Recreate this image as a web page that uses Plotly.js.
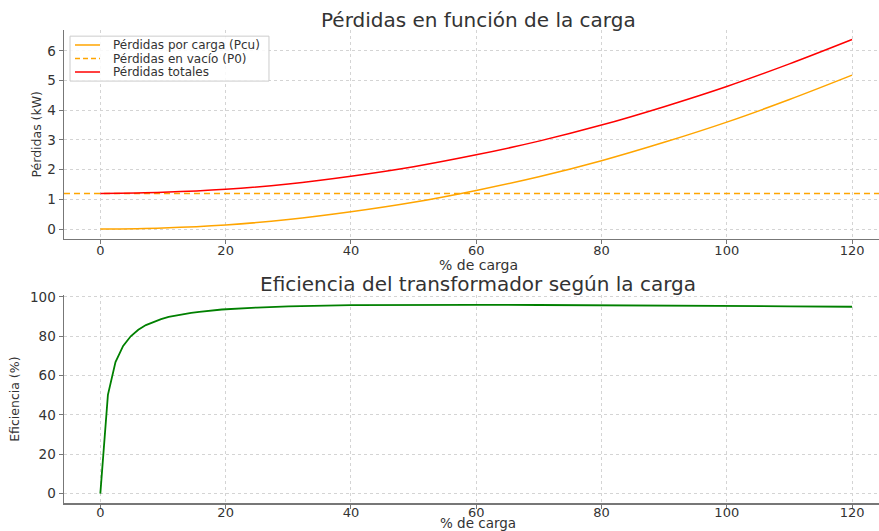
<!DOCTYPE html>
<html>
<head>
<meta charset="utf-8">
<script src="https://cdn.plot.ly/plotly-3.0.1.min.js"></script>
<style>html,body{margin:0;padding:0;background:#fff;}#chart{width:879px;height:531px;}</style>
</head>
<body>
<div id="chart"></div>
<script>
// Load (%) and losses (kW)
const loadPct = [0, 10, 20, 30, 40, 50, 60, 70, 80, 90, 100, 110, 120];
const lossCu = [0, 0.04, 0.14, 0.32, 0.58, 0.90, 1.30, 1.76, 2.30, 2.92, 3.60, 4.36, 5.18];
const lossTotal = [1.20, 1.24, 1.34, 1.52, 1.78, 2.10, 2.50, 2.96, 3.50, 4.12, 4.80, 5.56, 6.38];
const lossNoLoad = 1.2;

// Efficiency (%) vs load (%)
const effLoad = [0, 1.21, 2.42, 3.64, 4.85, 6.06, 7.27, 8.48, 9.70, 10.9, 12.1, 13.3, 14.5, 15.8, 17.0, 18.2, 19.4, 25, 30, 40, 50, 60, 70, 80, 90, 100, 110, 120];
const effVal = [0, 50.2, 66.9, 75.1, 80.0, 83.3, 85.7, 87.4, 88.7, 89.8, 90.6, 91.3, 91.9, 92.4, 92.9, 93.2, 93.6, 94.6, 95.2, 95.8, 96.0, 96.0, 95.9, 95.8, 95.6, 95.4, 95.2, 95.0];

const labels = {
  title1: 'Pérdidas en función de la carga',
  title2: 'Eficiencia del transformador según la carga',
  xTitle: '% de carga',
  y1Title: 'Pérdidas (kW)',
  y2Title: 'Eficiencia (%)',
  sCu: 'Pérdidas por carga (Pcu)',
  sP0: 'Pérdidas en vacío (P0)',
  sTot: 'Pérdidas totales'
};

const xRange = [-5.8, 124.3];
const font = 'DejaVu Sans, sans-serif';
const txt = '#333';
const orange = '#FFA500', red = '#FF0000', green = '#008000';

const traces = [
  {x: loadPct, y: lossCu, name: labels.sCu, mode: 'lines', line: {color: orange, width: 1.5, shape: 'spline'}, xaxis: 'x', yaxis: 'y'},
  {x: xRange, y: [lossNoLoad, lossNoLoad], name: labels.sP0, mode: 'lines', line: {color: orange, width: 1.5, dash: '6px,4px'}, xaxis: 'x', yaxis: 'y'},
  {x: loadPct, y: lossTotal, name: labels.sTot, mode: 'lines', line: {color: red, width: 1.5, shape: 'spline'}, xaxis: 'x', yaxis: 'y'},
  {x: effLoad, y: effVal, name: 'Eficiencia', mode: 'lines', line: {color: green, width: 1.8}, xaxis: 'x2', yaxis: 'y2'}
];

const axBase = {
  showline: true, linecolor: '#777', linewidth: 1.5,
  ticks: 'outside', ticklen: 4, tickcolor: '#777', tickwidth: 1,
  showgrid: true, gridcolor: '#d4d4d4', griddash: 'dot', gridwidth: 1,
  zeroline: false, tickfont: {family: font, size: 13.5, color: txt},
  mirror: false
};
const xTickFont = {family: font, size: 13, color: txt};

// custom compact legend (paper coordinates)
const legItems = [
  {name: labels.sCu, color: orange, dash: 'solid'},
  {name: labels.sP0, color: orange, dash: '5px,3px'},
  {name: labels.sTot, color: red, dash: 'solid'}
];
const legRowsY = [0.9683, 0.9397, 0.9112];
const shapes = [
  {type: 'rect', xref: 'paper', yref: 'paper', x0: 0.0074, x1: 0.2515, y0: 0.892, y1: 0.987, fillcolor: 'rgba(255,255,255,0.85)', line: {color: '#cccccc', width: 1}, layer: 'above'}
];
const annotations = [
  {text: labels.title1, xref: 'paper', yref: 'paper', x: 0.508, y: 1.0211, xanchor: 'center', yanchor: 'middle', showarrow: false, font: {family: font, size: 20, color: txt}},
  {text: labels.title2, xref: 'paper', yref: 'paper', x: 0.508, y: 0.463, xanchor: 'center', yanchor: 'middle', showarrow: false, font: {family: font, size: 20, color: txt}},
  {text: labels.xTitle, xref: 'paper', yref: 'paper', x: 0.508, y: 0.5032, xanchor: 'center', yanchor: 'middle', showarrow: false, font: {family: font, size: 14, color: txt}},
  {text: labels.xTitle, xref: 'paper', yref: 'paper', x: 0.508, y: -0.0423, xanchor: 'center', yanchor: 'middle', showarrow: false, font: {family: font, size: 13.5, color: txt}}
];
legItems.forEach((it, i) => {
  shapes.push({type: 'line', xref: 'paper', yref: 'paper', x0: 0.0135, x1: 0.0442, y0: legRowsY[i], y1: legRowsY[i], line: {color: it.color, width: 1.5, dash: it.dash}, layer: 'above'});
  annotations.push({text: it.name, xref: 'paper', yref: 'paper', x: 0.0577, y: legRowsY[i], xanchor: 'left', yanchor: 'middle', showarrow: false, font: {family: font, size: 12, color: txt}});
});

const layout = {
  width: 879, height: 531,
  margin: {l: 64, r: 0, t: 30, b: 28},
  paper_bgcolor: '#fff', plot_bgcolor: '#fff',
  font: {family: font, color: txt},
  showlegend: false,
  xaxis: Object.assign({}, axBase, {domain: [0, 1], anchor: 'y', range: xRange, tickvals: [0, 20, 40, 60, 80, 100, 120], ticklabelstandoff: -5, tickfont: xTickFont}),
  yaxis: Object.assign({}, axBase, {domain: [0.559, 1], anchor: 'x', range: [-0.32, 6.70], tickvals: [0, 1, 2, 3, 4, 5, 6], title: {text: labels.y1Title, font: {family: font, size: 12.5, color: txt}, standoff: 3}}),
  xaxis2: Object.assign({}, axBase, {domain: [0, 1], anchor: 'y2', range: xRange, tickvals: [0, 20, 40, 60, 80, 100, 120], ticklabelstandoff: -7, tickfont: xTickFont}),
  yaxis2: Object.assign({}, axBase, {domain: [0, 0.439], anchor: 'x2', range: [-4.8, 100.8], tickvals: [0, 20, 40, 60, 80, 100], title: {text: labels.y2Title, font: {family: font, size: 12.5, color: txt}, standoff: 7}}),
  shapes: shapes,
  annotations: annotations
};

Plotly.newPlot('chart', traces, layout, {displayModeBar: false, staticPlot: true});
</script>
</body>
</html>
